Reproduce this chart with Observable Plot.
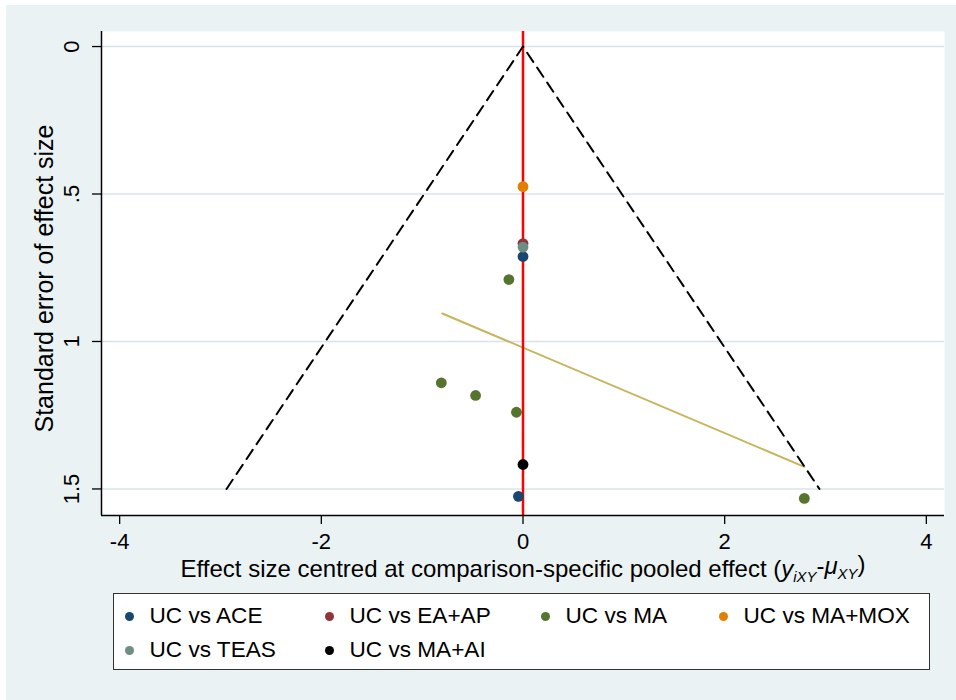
<!DOCTYPE html>
<html>
<head>
<meta charset="utf-8">
<script src="https://cdn.jsdelivr.net/npm/d3@7"></script>
<script src="https://cdn.jsdelivr.net/npm/@observablehq/plot@0.6"></script>
<style>
  html, body { margin: 0; padding: 0; background: #ffffff; }
  #wrap { position: absolute; left: 6px; top: 5px; width: 950px; height: 695px; background: #eaf2f3; overflow: hidden;
          font-family: "Liberation Sans", Arial, sans-serif; }
  #chart { position: absolute; left: 0; top: 0; }
  #legend { position: absolute; left: 107px; top: 588px; width: 817px; height: 77px; background: #fff;
            border: 1.5px solid #333; box-sizing: border-box; }
  .li { position: absolute; display: flex; align-items: center; font-size: 22.6px; color: #000; white-space: nowrap; transform: translateY(-50%); }
  .sw { width: 9px; height: 9px; border-radius: 50%; margin-right: 16px; margin-left: -4.5px; }
</style>
</head>
<body>
<div id="wrap">
  <div id="chart"></div>
  <div id="legend"></div>
</div>
<script>
// ---- data ----
const seriesNames  = ["UC vs ACE", "UC vs EA+AP", "UC vs MA", "UC vs MA+MOX", "UC vs TEAS", "UC vs MA+AI"];
const seriesColors = ["#1a476f", "#90353b", "#55752f", "#e37e00", "#6e8e84", "#000000"];

// study points per comparison: x = centred effect size, y = standard error
const aceX   = [0.00, -0.045];
const aceY   = [0.712, 1.525];
const eaapX  = [0.00];
const eaapY  = [0.668];
const maX    = [-0.14, -0.81, -0.47, -0.065, 2.79];
const maY    = [0.79, 1.14, 1.183, 1.24, 1.532];
const mamoxX = [0.00];
const mamoxY = [0.475];
const teasX  = [0.00];
const teasY  = [0.68];
const maaiX  = [0.00];
const maaiY  = [1.417];

// pseudo 95% confidence funnel
const funnelX = [-2.94, 0, 2.94];
const funnelY = [1.5, 0, 1.5];
// regression (small-study effect) line
const regX = [-0.80, 2.79];
const regY = [0.905, 1.425];

const xTicks = [-4, -2, 0, 2, 4];
const xTickLabels = ["-4", "-2", "0", "2", "4"];
const yTicks = [0, 0.5, 1, 1.5];
const yTickLabels = ["0", ".5", "1", "1.5"];
const xDomain = [-4.18, 4.18];
const yDomain = [-0.051, 1.59];

const yTitle = "Standard error of effect size";
const xTitle = "Effect size centred at comparison-specific pooled effect (";

// ---- build tables ----
const seriesX = [aceX, eaapX, maX, mamoxX, teasX, maaiX];
const seriesY = [aceY, eaapY, maY, mamoxY, teasY, maaiY];
const points = [];
seriesNames.forEach((name, i) => {
  seriesX[i].forEach((x, j) => points.push({series: name, color: seriesColors[i], x, y: seriesY[i][j]}));
});
const funnel = funnelX.map((x, i) => ({x, y: funnelY[i]}));
const reg = regX.map((x, i) => ({x, y: regY[i]}));

const font = '"Liberation Sans", Arial, sans-serif';

const svg = Plot.plot({
  width: 950,
  height: 580,
  marginLeft: 95,
  marginTop: 26,
  marginRight: 12,
  marginBottom: 70,
  style: {background: "transparent", fontFamily: font, fontSize: "22px", color: "#000", overflow: "visible"},
  x: {domain: xDomain},
  y: {domain: yDomain, reverse: true},
  marks: [
    Plot.frame({fill: "white", stroke: null}),
    Plot.gridY(yTicks, {stroke: "#d8e4ea", strokeOpacity: 1, strokeWidth: 1.5}),
    Plot.line(reg, {x: "x", y: "y", stroke: "#c8b45a", strokeWidth: 2}),
    Plot.ruleX([0], {stroke: "#ff0000", strokeWidth: 2.5}),
    Plot.line(funnel, {x: "x", y: "y", stroke: "#000", strokeWidth: 2, strokeDasharray: "11,7"}),
    Plot.dot(points, {x: "x", y: "y", fill: "color", r: 5.4, stroke: null}),
    // axis lines
    Plot.ruleX([xDomain[0]], {stroke: "#000", strokeWidth: 1.5}),
    Plot.ruleY([yDomain[1]], {stroke: "#000", strokeWidth: 1.5}),
    // y ticks + rotated labels
    Plot.axisY(yTicks, {tickFormat: () => "", tickSize: 9, label: null, strokeWidth: 1.3}),
    Plot.text(yTicks, {y: d => d, frameAnchor: "left", dx: -30, rotate: -90, text: (d, i) => yTickLabels[i],
      textAnchor: "middle", lineAnchor: "middle", fontSize: 22}),
    // x ticks + labels
    Plot.axisX(xTicks, {tickFormat: () => "", tickSize: 9, label: null, strokeWidth: 1.3}),
    Plot.text(xTicks, {x: d => d, frameAnchor: "bottom", dy: 26, text: (d, i) => xTickLabels[i],
      textAnchor: "middle", lineAnchor: "middle", fontSize: 22}),
    // titles
    Plot.text([yTitle], {frameAnchor: "left", dx: -57, dy: 5, rotate: -90, text: d => d, fontSize: 25,
      textAnchor: "middle", lineAnchor: "middle"}),
    Plot.text([xTitle], {frameAnchor: "bottom", dy: 54, text: d => d, fontSize: 24, className: "xtitle",
      textAnchor: "middle", lineAnchor: "middle"})
  ]
});
document.getElementById("chart").appendChild(svg);

// italic formula with subscripts for x title
const t = d3.select(svg).select("g.xtitle text");
t.text("");
t.append("tspan").text(xTitle);
t.append("tspan").attr("font-style", "italic").text("y");
t.append("tspan").attr("font-style", "italic").attr("font-size", "0.62em").attr("dy", "0.3em").text("iXY");
t.append("tspan").attr("dy", "-0.3em").text("-");
t.append("tspan").attr("font-style", "italic").text("\u03bc");
t.append("tspan").attr("font-style", "italic").attr("font-size", "0.62em").attr("dy", "0.3em").text("XY");
t.append("tspan").attr("dy", "-0.3em").text(")");

// legend
const legendCols = [15, 215, 431, 609];
const legendRows = [22, 56];
const legend = document.getElementById("legend");
seriesNames.forEach((name, i) => {
  const item = document.createElement("div");
  item.className = "li";
  item.style.left = legendCols[i % 4] + "px";
  item.style.top = legendRows[Math.floor(i / 4)] + "px";
  const sw = document.createElement("span");
  sw.className = "sw";
  sw.style.background = seriesColors[i];
  item.appendChild(sw);
  item.appendChild(document.createTextNode(name));
  legend.appendChild(item);
});
</script>
</body>
</html>
